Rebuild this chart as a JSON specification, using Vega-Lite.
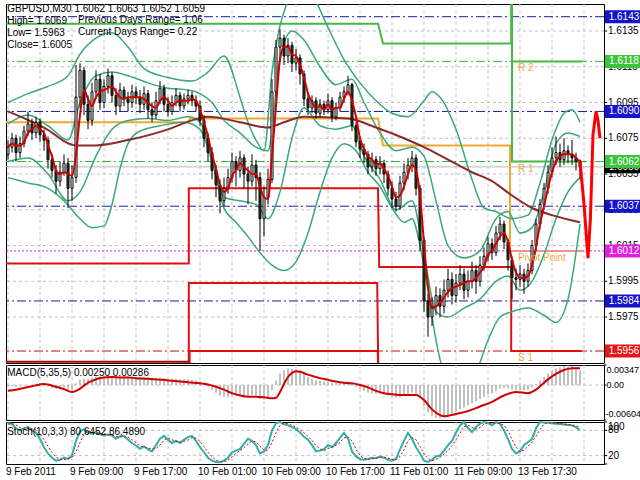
{
"$schema": "https://vega.github.io/schema/vega-lite/v6.json",
"background": "white",
"padding": {"left": 3, "top": 3, "right": 0, "bottom": 0},
"spacing": 2,
"bounds": "flush",
"config": {
  "view": {"stroke": "#000", "strokeWidth": 1},
  "font": "Liberation Sans",
  "axis": {"disable": true},
  "scale": {"continuousPadding": 0},
  "text": {"font": "Liberation Sans", "fontSize": 10}
},
"datasets": {
  "bars": [
{"t":0,"o":1.6066,"h":1.6074,"l":1.6063,"c":1.6070,"m":1.6070,"mh":-0.0003,"k":98,"d":95},
{"t":1,"o":1.6070,"h":1.6078,"l":1.6067,"c":1.6075,"m":1.6072,"mh":-0.0002,"k":95,"d":96},
{"t":2,"o":1.6075,"h":1.6077,"l":1.6062,"c":1.6067,"m":1.6071,"mh":-0.0003,"k":85,"d":93},
{"t":3,"o":1.6067,"h":1.6076,"l":1.6064,"c":1.6072,"m":1.6071,"mh":-0.0002,"k":80,"d":87},
{"t":4,"o":1.6072,"h":1.6082,"l":1.6070,"c":1.6079,"m":1.6073,"mh":-0.0001,"k":85,"d":83},
{"t":5,"o":1.6079,"h":1.6090,"l":1.6076,"c":1.6083,"m":1.6078,"mh":0,"k":88,"d":84},
{"t":6,"o":1.6083,"h":1.6086,"l":1.6074,"c":1.6078,"m":1.6080,"mh":0,"k":80,"d":84},
{"t":7,"o":1.6078,"h":1.6087,"l":1.6075,"c":1.6084,"m":1.6082,"mh":0.0001,"k":75,"d":81},
{"t":8,"o":1.6084,"h":1.6086,"l":1.6073,"c":1.6077,"m":1.6080,"mh":0,"k":60,"d":72},
{"t":9,"o":1.6077,"h":1.6080,"l":1.6068,"c":1.6074,"m":1.6078,"mh":-0.0001,"k":40,"d":58},
{"t":10,"o":1.6074,"h":1.6076,"l":1.6058,"c":1.6063,"m":1.6071,"mh":-0.0003,"k":25,"d":42},
{"t":11,"o":1.6063,"h":1.6066,"l":1.6053,"c":1.6057,"m":1.6065,"mh":-0.0005,"k":15,"d":27},
{"t":12,"o":1.6057,"h":1.6060,"l":1.6044,"c":1.6051,"m":1.6057,"mh":-0.0007,"k":8,"d":16},
{"t":13,"o":1.6051,"h":1.6062,"l":1.6048,"c":1.6056,"m":1.6055,"mh":-0.0007,"k":10,"d":11},
{"t":14,"o":1.6056,"h":1.6066,"l":1.6054,"c":1.6061,"m":1.6056,"mh":-0.0006,"k":15,"d":11},
{"t":15,"o":1.6061,"h":1.6064,"l":1.6036,"c":1.6047,"m":1.6055,"mh":-0.0008,"k":12,"d":12},
{"t":16,"o":1.6047,"h":1.6060,"l":1.6040,"c":1.6053,"m":1.6054,"mh":-0.0008,"k":20,"d":16},
{"t":17,"o":1.6053,"h":1.6116,"l":1.6050,"c":1.6098,"m":1.6066,"mh":0.0003,"k":55,"d":29},
{"t":18,"o":1.6098,"h":1.6117,"l":1.6092,"c":1.6113,"m":1.6088,"mh":0.0009,"k":78,"d":51},
{"t":19,"o":1.6113,"h":1.6115,"l":1.6088,"c":1.6094,"m":1.6102,"mh":0.0011,"k":83,"d":72},
{"t":20,"o":1.6094,"h":1.6099,"l":1.6080,"c":1.6085,"m":1.6097,"mh":0.0011,"k":74,"d":78},
{"t":21,"o":1.6085,"h":1.6106,"l":1.6082,"c":1.6101,"m":1.6093,"mh":0.0013,"k":72,"d":76},
{"t":22,"o":1.6101,"h":1.6113,"l":1.6097,"c":1.6108,"m":1.6098,"mh":0.0015,"k":76,"d":74},
{"t":23,"o":1.6108,"h":1.6111,"l":1.6091,"c":1.6095,"m":1.6101,"mh":0.0015,"k":71,"d":73},
{"t":24,"o":1.6095,"h":1.6108,"l":1.6092,"c":1.6104,"m":1.6102,"mh":0.0016,"k":68,"d":72},
{"t":25,"o":1.6104,"h":1.6114,"l":1.6100,"c":1.6110,"m":1.6103,"mh":0.0017,"k":70,"d":70},
{"t":26,"o":1.6110,"h":1.6112,"l":1.6095,"c":1.6099,"m":1.6104,"mh":0.0016,"k":68,"d":69},
{"t":27,"o":1.6099,"h":1.6103,"l":1.6088,"c":1.6093,"m":1.6101,"mh":0.0015,"k":60,"d":66},
{"t":28,"o":1.6093,"h":1.6106,"l":1.6090,"c":1.6102,"m":1.6098,"mh":0.0016,"k":66,"d":65},
{"t":29,"o":1.6102,"h":1.6104,"l":1.6093,"c":1.6097,"m":1.6097,"mh":0.0015,"k":67,"d":64},
{"t":30,"o":1.6097,"h":1.6101,"l":1.6090,"c":1.6095,"m":1.6098,"mh":0.0015,"k":58,"d":64},
{"t":31,"o":1.6095,"h":1.6105,"l":1.6092,"c":1.6101,"m":1.6098,"mh":0.0015,"k":50,"d":58},
{"t":32,"o":1.6101,"h":1.6104,"l":1.6094,"c":1.6098,"m":1.6098,"mh":0.0014,"k":44,"d":51},
{"t":33,"o":1.6098,"h":1.6102,"l":1.6089,"c":1.6094,"m":1.6098,"mh":0.0014,"k":36,"d":43},
{"t":34,"o":1.6094,"h":1.6104,"l":1.6091,"c":1.6100,"m":1.6097,"mh":0.0014,"k":42,"d":41},
{"t":35,"o":1.6100,"h":1.6102,"l":1.6086,"c":1.6091,"m":1.6095,"mh":0.0013,"k":35,"d":38},
{"t":36,"o":1.6091,"h":1.6095,"l":1.6084,"c":1.6088,"m":1.6093,"mh":0.0012,"k":30,"d":36},
{"t":37,"o":1.6088,"h":1.6101,"l":1.6086,"c":1.6096,"m":1.6092,"mh":0.0012,"k":45,"d":37},
{"t":38,"o":1.6096,"h":1.6107,"l":1.6094,"c":1.6103,"m":1.6096,"mh":0.0013,"k":60,"d":45},
{"t":39,"o":1.6103,"h":1.6105,"l":1.6090,"c":1.6094,"m":1.6098,"mh":0.0012,"k":67,"d":57},
{"t":40,"o":1.6094,"h":1.6098,"l":1.6087,"c":1.6090,"m":1.6096,"mh":0.0011,"k":58,"d":62},
{"t":41,"o":1.6090,"h":1.6099,"l":1.6088,"c":1.6095,"m":1.6093,"mh":0.0011,"k":50,"d":58},
{"t":42,"o":1.6095,"h":1.6103,"l":1.6093,"c":1.6099,"m":1.6095,"mh":0.0011,"k":55,"d":54},
{"t":43,"o":1.6099,"h":1.6101,"l":1.6090,"c":1.6093,"m":1.6096,"mh":0.0010,"k":50,"d":52},
{"t":44,"o":1.6093,"h":1.6100,"l":1.6091,"c":1.6097,"m":1.6096,"mh":0.0010,"k":58,"d":54},
{"t":45,"o":1.6097,"h":1.6102,"l":1.6094,"c":1.6099,"m":1.6096,"mh":0.0010,"k":64,"d":57},
{"t":46,"o":1.6099,"h":1.6101,"l":1.6093,"c":1.6096,"m":1.6097,"mh":0.0009,"k":67,"d":63},
{"t":47,"o":1.6096,"h":1.6099,"l":1.6090,"c":1.6093,"m":1.6096,"mh":0.0008,"k":55,"d":62},
{"t":48,"o":1.6093,"h":1.6096,"l":1.6082,"c":1.6085,"m":1.6091,"mh":0.0006,"k":40,"d":54},
{"t":49,"o":1.6085,"h":1.6088,"l":1.6070,"c":1.6075,"m":1.6084,"mh":0.0002,"k":28,"d":41},
{"t":50,"o":1.6075,"h":1.6078,"l":1.6062,"c":1.6067,"m":1.6076,"mh":-0.0003,"k":15,"d":28},
{"t":51,"o":1.6067,"h":1.6070,"l":1.6052,"c":1.6057,"m":1.6066,"mh":-0.0008,"k":8,"d":17},
{"t":52,"o":1.6057,"h":1.6060,"l":1.6042,"c":1.6049,"m":1.6058,"mh":-0.0013,"k":5,"d":9},
{"t":53,"o":1.6049,"h":1.6052,"l":1.6033,"c":1.6040,"m":1.6049,"mh":-0.0018,"k":4,"d":6},
{"t":54,"o":1.6040,"h":1.6053,"l":1.6037,"c":1.6047,"m":1.6045,"mh":-0.0020,"k":8,"d":6},
{"t":55,"o":1.6047,"h":1.6058,"l":1.6044,"c":1.6053,"m":1.6047,"mh":-0.0021,"k":15,"d":9},
{"t":56,"o":1.6053,"h":1.6067,"l":1.6050,"c":1.6062,"m":1.6054,"mh":-0.0019,"k":28,"d":17},
{"t":57,"o":1.6062,"h":1.6065,"l":1.6048,"c":1.6057,"m":1.6057,"mh":-0.0019,"k":32,"d":25},
{"t":58,"o":1.6057,"h":1.6068,"l":1.6053,"c":1.6064,"m":1.6061,"mh":-0.0017,"k":36,"d":32},
{"t":59,"o":1.6064,"h":1.6066,"l":1.6047,"c":1.6055,"m":1.6059,"mh":-0.0018,"k":48,"d":39},
{"t":60,"o":1.6055,"h":1.6059,"l":1.6038,"c":1.6051,"m":1.6057,"mh":-0.0019,"k":60,"d":48},
{"t":61,"o":1.6051,"h":1.6066,"l":1.6048,"c":1.6060,"m":1.6055,"mh":-0.0017,"k":55,"d":54},
{"t":62,"o":1.6060,"h":1.6063,"l":1.6040,"c":1.6053,"m":1.6055,"mh":-0.0018,"k":45,"d":53},
{"t":63,"o":1.6053,"h":1.6056,"l":1.6012,"c":1.6030,"m":1.6048,"mh":-0.0024,"k":25,"d":42},
{"t":64,"o":1.6030,"h":1.6048,"l":1.6020,"c":1.6042,"m":1.6042,"mh":-0.0025,"k":30,"d":33},
{"t":65,"o":1.6042,"h":1.6058,"l":1.6038,"c":1.6052,"m":1.6041,"mh":-0.0023,"k":45,"d":33},
{"t":66,"o":1.6052,"h":1.6108,"l":1.6050,"c":1.6101,"m":1.6065,"mh":-0.0009,"k":80,"d":52},
{"t":67,"o":1.6101,"h":1.6130,"l":1.6098,"c":1.6126,"m":1.6093,"mh":0.0008,"k":97,"d":74},
{"t":68,"o":1.6126,"h":1.6136,"l":1.6120,"c":1.6131,"m":1.6119,"mh":0.0020,"k":100,"d":92},
{"t":69,"o":1.6131,"h":1.6133,"l":1.6116,"c":1.6121,"m":1.6126,"mh":0.0026,"k":95,"d":97},
{"t":70,"o":1.6121,"h":1.6131,"l":1.6117,"c":1.6127,"m":1.6126,"mh":0.0029,"k":92,"d":96},
{"t":71,"o":1.6127,"h":1.6129,"l":1.6112,"c":1.6117,"m":1.6122,"mh":0.0028,"k":88,"d":92},
{"t":72,"o":1.6117,"h":1.6125,"l":1.6113,"c":1.6120,"m":1.6121,"mh":0.0028,"k":83,"d":88},
{"t":73,"o":1.6120,"h":1.6122,"l":1.6105,"c":1.6111,"m":1.6116,"mh":0.0025,"k":75,"d":82},
{"t":74,"o":1.6111,"h":1.6113,"l":1.6093,"c":1.6097,"m":1.6109,"mh":0.0019,"k":65,"d":74},
{"t":75,"o":1.6097,"h":1.6100,"l":1.6088,"c":1.6092,"m":1.6100,"mh":0.0014,"k":58,"d":66},
{"t":76,"o":1.6092,"h":1.6099,"l":1.6089,"c":1.6096,"m":1.6095,"mh":0.0011,"k":45,"d":56},
{"t":77,"o":1.6096,"h":1.6098,"l":1.6086,"c":1.6089,"m":1.6092,"mh":0.0008,"k":30,"d":44},
{"t":78,"o":1.6089,"h":1.6097,"l":1.6087,"c":1.6094,"m":1.6093,"mh":0.0007,"k":32,"d":36},
{"t":79,"o":1.6094,"h":1.6096,"l":1.6088,"c":1.6091,"m":1.6091,"mh":0.0006,"k":35,"d":32},
{"t":80,"o":1.6091,"h":1.6100,"l":1.6089,"c":1.6096,"m":1.6094,"mh":0.0006,"k":45,"d":37},
{"t":81,"o":1.6096,"h":1.6098,"l":1.6084,"c":1.6087,"m":1.6091,"mh":0.0004,"k":40,"d":40},
{"t":82,"o":1.6087,"h":1.6095,"l":1.6085,"c":1.6092,"m":1.6092,"mh":0.0004,"k":50,"d":45},
{"t":83,"o":1.6092,"h":1.6101,"l":1.6090,"c":1.6098,"m":1.6092,"mh":0.0004,"k":62,"d":51},
{"t":84,"o":1.6098,"h":1.6104,"l":1.6095,"c":1.6101,"m":1.6097,"mh":0.0005,"k":74,"d":62},
{"t":85,"o":1.6101,"h":1.6110,"l":1.6099,"c":1.6105,"m":1.6101,"mh":0.0006,"k":60,"d":65},
{"t":86,"o":1.6105,"h":1.6106,"l":1.6079,"c":1.6082,"m":1.6096,"mh":0.0002,"k":30,"d":55},
{"t":87,"o":1.6082,"h":1.6084,"l":1.6070,"c":1.6073,"m":1.6087,"mh":-0.0003,"k":18,"d":36},
{"t":88,"o":1.6073,"h":1.6076,"l":1.6064,"c":1.6069,"m":1.6075,"mh":-0.0007,"k":12,"d":20},
{"t":89,"o":1.6069,"h":1.6072,"l":1.6061,"c":1.6066,"m":1.6069,"mh":-0.0010,"k":10,"d":13},
{"t":90,"o":1.6066,"h":1.6068,"l":1.6055,"c":1.6059,"m":1.6065,"mh":-0.0013,"k":12,"d":11},
{"t":91,"o":1.6059,"h":1.6067,"l":1.6056,"c":1.6063,"m":1.6063,"mh":-0.0014,"k":15,"d":12},
{"t":92,"o":1.6063,"h":1.6065,"l":1.6054,"c":1.6058,"m":1.6060,"mh":-0.0015,"k":14,"d":14},
{"t":93,"o":1.6058,"h":1.6065,"l":1.6055,"c":1.6061,"m":1.6061,"mh":-0.0015,"k":18,"d":16},
{"t":94,"o":1.6061,"h":1.6063,"l":1.6050,"c":1.6055,"m":1.6058,"mh":-0.0016,"k":15,"d":16},
{"t":95,"o":1.6055,"h":1.6057,"l":1.6043,"c":1.6047,"m":1.6054,"mh":-0.0018,"k":10,"d":14},
{"t":96,"o":1.6047,"h":1.6051,"l":1.6036,"c":1.6041,"m":1.6048,"mh":-0.0020,"k":8,"d":11},
{"t":97,"o":1.6041,"h":1.6045,"l":1.6034,"c":1.6037,"m":1.6042,"mh":-0.0022,"k":12,"d":10},
{"t":98,"o":1.6037,"h":1.6054,"l":1.6035,"c":1.6050,"m":1.6043,"mh":-0.0021,"k":35,"d":18},
{"t":99,"o":1.6050,"h":1.6061,"l":1.6046,"c":1.6056,"m":1.6048,"mh":-0.0019,"k":55,"d":34},
{"t":100,"o":1.6056,"h":1.6064,"l":1.6052,"c":1.6060,"m":1.6055,"mh":-0.0016,"k":74,"d":55},
{"t":101,"o":1.6060,"h":1.6068,"l":1.6056,"c":1.6064,"m":1.6060,"mh":-0.0013,"k":60,"d":63},
{"t":102,"o":1.6064,"h":1.6066,"l":1.6043,"c":1.6047,"m":1.6057,"mh":-0.0015,"k":40,"d":58},
{"t":103,"o":1.6047,"h":1.6049,"l":1.6012,"c":1.6018,"m":1.6043,"mh":-0.0023,"k":25,"d":42},
{"t":104,"o":1.6018,"h":1.6020,"l":1.5978,"c":1.5984,"m":1.6016,"mh":-0.0036,"k":8,"d":24},
{"t":105,"o":1.5984,"h":1.5988,"l":1.5964,"c":1.5975,"m":1.5992,"mh":-0.0047,"k":5,"d":13},
{"t":106,"o":1.5975,"h":1.5986,"l":1.5970,"c":1.5981,"m":1.5980,"mh":-0.0054,"k":10,"d":8},
{"t":107,"o":1.5981,"h":1.5992,"l":1.5976,"c":1.5987,"m":1.5981,"mh":-0.0057,"k":18,"d":11},
{"t":108,"o":1.5987,"h":1.5991,"l":1.5975,"c":1.5981,"m":1.5983,"mh":-0.0058,"k":20,"d":16},
{"t":109,"o":1.5981,"h":1.5996,"l":1.5977,"c":1.5990,"m":1.5986,"mh":-0.0056,"k":32,"d":23},
{"t":110,"o":1.5990,"h":1.6002,"l":1.5986,"c":1.5996,"m":1.5989,"mh":-0.0052,"k":45,"d":32},
{"t":111,"o":1.5996,"h":1.6000,"l":1.5982,"c":1.5987,"m":1.5991,"mh":-0.0050,"k":55,"d":44},
{"t":112,"o":1.5987,"h":1.5999,"l":1.5983,"c":1.5994,"m":1.5992,"mh":-0.0046,"k":75,"d":58},
{"t":113,"o":1.5994,"h":1.6004,"l":1.5990,"c":1.5999,"m":1.5993,"mh":-0.0042,"k":92,"d":74},
{"t":114,"o":1.5999,"h":1.6002,"l":1.5985,"c":1.5990,"m":1.5994,"mh":-0.0039,"k":100,"d":89},
{"t":115,"o":1.5990,"h":1.6001,"l":1.5986,"c":1.5995,"m":1.5995,"mh":-0.0035,"k":85,"d":92},
{"t":116,"o":1.5995,"h":1.6006,"l":1.5991,"c":1.6001,"m":1.5995,"mh":-0.0031,"k":76,"d":87},
{"t":117,"o":1.6001,"h":1.6004,"l":1.5988,"c":1.5995,"m":1.5997,"mh":-0.0028,"k":88,"d":83},
{"t":118,"o":1.5995,"h":1.6009,"l":1.5992,"c":1.6004,"m":1.6000,"mh":-0.0024,"k":96,"d":87},
{"t":119,"o":1.6004,"h":1.6014,"l":1.6001,"c":1.6009,"m":1.6003,"mh":-0.0020,"k":100,"d":95},
{"t":120,"o":1.6009,"h":1.6020,"l":1.6006,"c":1.6016,"m":1.6010,"mh":-0.0016,"k":98,"d":98},
{"t":121,"o":1.6016,"h":1.6019,"l":1.6007,"c":1.6011,"m":1.6012,"mh":-0.0014,"k":92,"d":97},
{"t":122,"o":1.6011,"h":1.6026,"l":1.6009,"c":1.6022,"m":1.6016,"mh":-0.0010,"k":100,"d":97},
{"t":123,"o":1.6022,"h":1.6031,"l":1.6018,"c":1.6027,"m":1.6020,"mh":-0.0006,"k":96,"d":96},
{"t":124,"o":1.6027,"h":1.6029,"l":1.6013,"c":1.6017,"m":1.6022,"mh":-0.0005,"k":80,"d":92},
{"t":125,"o":1.6017,"h":1.6019,"l":1.6001,"c":1.6007,"m":1.6017,"mh":-0.0006,"k":60,"d":79},
{"t":126,"o":1.6007,"h":1.6009,"l":1.5985,"c":1.5997,"m":1.6007,"mh":-0.0008,"k":36,"d":59},
{"t":127,"o":1.5997,"h":1.6002,"l":1.5990,"c":1.5996,"m":1.6000,"mh":-0.0009,"k":25,"d":40},
{"t":128,"o":1.5996,"h":1.6004,"l":1.5992,"c":1.5999,"m":1.5997,"mh":-0.0009,"k":30,"d":30},
{"t":129,"o":1.5999,"h":1.6002,"l":1.5988,"c":1.5995,"m":1.5997,"mh":-0.0009,"k":45,"d":33},
{"t":130,"o":1.5995,"h":1.6005,"l":1.5992,"c":1.6001,"m":1.5998,"mh":-0.0008,"k":52,"d":42},
{"t":131,"o":1.6001,"h":1.6018,"l":1.5999,"c":1.6015,"m":1.6004,"mh":-0.0004,"k":60,"d":52},
{"t":132,"o":1.6015,"h":1.6030,"l":1.6012,"c":1.6027,"m":1.6014,"mh":0.0002,"k":85,"d":66},
{"t":133,"o":1.6027,"h":1.6041,"l":1.6024,"c":1.6038,"m":1.6027,"mh":0.0008,"k":100,"d":82},
{"t":134,"o":1.6038,"h":1.6050,"l":1.6035,"c":1.6047,"m":1.6037,"mh":0.0014,"k":99,"d":95},
{"t":135,"o":1.6047,"h":1.6060,"l":1.6044,"c":1.6056,"m":1.6047,"mh":0.0020,"k":98,"d":99},
{"t":136,"o":1.6056,"h":1.6070,"l":1.6053,"c":1.6064,"m":1.6056,"mh":0.0025,"k":97,"d":98},
{"t":137,"o":1.6064,"h":1.6076,"l":1.6060,"c":1.6067,"m":1.6062,"mh":0.0029,"k":96,"d":97},
{"t":138,"o":1.6067,"h":1.6072,"l":1.6059,"c":1.6063,"m":1.6065,"mh":0.0031,"k":95,"d":96},
{"t":139,"o":1.6063,"h":1.6075,"l":1.6060,"c":1.6068,"m":1.6066,"mh":0.0033,"k":94,"d":95},
{"t":140,"o":1.6068,"h":1.6071,"l":1.6061,"c":1.6066,"m":1.6066,"mh":0.0034,"k":93,"d":94},
{"t":141,"o":1.6066,"h":1.6074,"l":1.6060,"c":1.6064,"m":1.6066,"mh":0.0033,"k":92,"d":93},
{"t":142,"o":1.6064,"h":1.6067,"l":1.6057,"c":1.6062,"m":1.6064,"mh":0.0030,"k":87,"d":91},
{"t":143,"o":1.6062,"h":1.6063,"l":1.6052,"c":1.6059,"m":1.6062,"mh":0.0025,"k":81,"d":87}
  ],
  "macdsig": [
{"t":0,"v":-0.0010},{"t":2,"v":-0.0008},{"t":4,"v":-0.0005},{"t":6,"v":-0.0002},{"t":8,"v":0.0001},{"t":9,"v":0.0002},{"t":10,"v":0.0001},{"t":12,"v":-0.0003},{"t":14,"v":-0.0007},{"t":16,"v":-0.0012},{"t":17,"v":-0.0010},{"t":18,"v":-0.0006},{"t":19,"v":-0.0001},{"t":20,"v":0.0004},{"t":21,"v":0.0007},{"t":22,"v":0.0010},{"t":24,"v":0.0013},{"t":26,"v":0.0014},{"t":28,"v":0.0013},{"t":30,"v":0.0013},{"t":32,"v":0.0012},{"t":35,"v":0.0011},{"t":40,"v":0.0008},{"t":45,"v":0.0005},{"t":48,"v":0.0003},{"t":50,"v":0.0001},{"t":52,"v":-0.0003},{"t":54,"v":-0.0008},{"t":56,"v":-0.0014},{"t":58,"v":-0.0018},{"t":60,"v":-0.0020},{"t":62,"v":-0.0020},{"t":64,"v":-0.0021},{"t":66,"v":-0.0023},{"t":67,"v":-0.0022},{"t":68,"v":-0.0012},{"t":69,"v":0.0002},{"t":70,"v":0.0014},{"t":71,"v":0.0021},{"t":72,"v":0.0024},{"t":73,"v":0.0023},{"t":75,"v":0.0018},{"t":78,"v":0.0012},{"t":80,"v":0.0009},{"t":82,"v":0.0006},{"t":84,"v":0.0004},{"t":86,"v":0.0003},{"t":88,"v":0},{"t":90,"v":-0.0004},{"t":92,"v":-0.0010},{"t":94,"v":-0.0014},{"t":96,"v":-0.0016},{"t":98,"v":-0.0017},{"t":100,"v":-0.0017},{"t":102,"v":-0.0017},{"t":104,"v":-0.0026},{"t":106,"v":-0.0042},{"t":108,"v":-0.0052},{"t":109,"v":-0.0054},{"t":110,"v":-0.0053},{"t":112,"v":-0.0050},{"t":115,"v":-0.0045},{"t":118,"v":-0.0037},{"t":121,"v":-0.0029},{"t":124,"v":-0.0018},{"t":127,"v":-0.0012},{"t":130,"v":-0.0014},{"t":132,"v":-0.0008},{"t":134,"v":0.0004},{"t":136,"v":0.0015},{"t":138,"v":0.0023},{"t":139,"v":0.0026},{"t":140,"v":0.0028},{"t":141,"v":0.0029},{"t":143,"v":0.0029}
  ],
  "steps": [
{"g":"hi","s":1,"t":-0.5,"p":1.6139},{"g":"hi","s":1,"t":92.5,"p":1.6139},{"g":"hi","s":1,"t":93.75,"p":1.6128},{"g":"hi","s":1,"t":125.8,"p":1.6128},{"g":"hi","s":1,"t":125.8,"p":1.6160},
{"g":"hi","s":2,"t":126,"p":1.6160},{"g":"hi","s":2,"t":126,"p":1.6062},{"g":"hi","s":2,"t":143.5,"p":1.6062},
{"g":"hi","s":3,"t":126,"p":1.6118},{"g":"hi","s":3,"t":143.5,"p":1.6118},
{"g":"mid","s":4,"t":-0.5,"p":1.6084},{"g":"mid","s":4,"t":45,"p":1.6084},{"g":"mid","s":4,"t":45.5,"p":1.6086},{"g":"mid","s":4,"t":92.5,"p":1.6086},{"g":"mid","s":4,"t":93.75,"p":1.6071},{"g":"mid","s":4,"t":125.5,"p":1.6071},{"g":"mid","s":4,"t":125.5,"p":1.6012},
{"g":"pp","s":5,"t":125.5,"p":1.6012},{"g":"pp","s":5,"t":143.5,"p":1.6012},
{"g":"lo","s":6,"t":-0.5,"p":1.6005},{"g":"lo","s":6,"t":45.2,"p":1.6005},{"g":"lo","s":6,"t":45.2,"p":1.6047},{"g":"lo","s":6,"t":92.5,"p":1.6047},{"g":"lo","s":6,"t":92.8,"p":1.6003},{"g":"lo","s":6,"t":125.8,"p":1.6003},{"g":"lo","s":6,"t":125.8,"p":1.5956},{"g":"lo","s":6,"t":143.5,"p":1.5956},
{"g":"lo","s":7,"t":45.2,"p":1.5940},{"g":"lo","s":7,"t":45.2,"p":1.5994},{"g":"lo","s":7,"t":92.3,"p":1.5994},{"g":"lo","s":7,"t":92.6,"p":1.5940},
{"g":"lo","s":8,"t":45.4,"p":1.5940},{"g":"lo","s":8,"t":45.4,"p":1.5956},{"g":"lo","s":8,"t":92.4,"p":1.5956},{"g":"lo","s":8,"t":92.7,"p":1.5940},
{"g":"lo2","s":9,"t":-0.5,"p":1.5950},{"g":"lo2","s":9,"t":45.2,"p":1.5950}
  ],
  "bands": [
{"b":"u1","t":0,"p":1.6095},{"b":"u1","t":5,"p":1.6100},{"b":"u1","t":10,"p":1.6104},{"b":"u1","t":15,"p":1.6110},{"b":"u1","t":18,"p":1.6122},{"b":"u1","t":22,"p":1.6131},{"b":"u1","t":26,"p":1.6134},{"b":"u1","t":30,"p":1.6126},{"b":"u1","t":34,"p":1.6114},{"b":"u1","t":40,"p":1.6109},{"b":"u1","t":46,"p":1.6107},{"b":"u1","t":50,"p":1.6112},{"b":"u1","t":54,"p":1.6121},{"b":"u1","t":58,"p":1.6098},{"b":"u1","t":60,"p":1.6084},{"b":"u1","t":62,"p":1.6074},{"b":"u1","t":64,"p":1.6068},{"b":"u1","t":66,"p":1.6112},{"b":"u1","t":68,"p":1.6138},{"b":"u1","t":70,"p":1.6152},{"b":"u1","t":73,"p":1.6165},{"b":"u1","t":76,"p":1.6156},{"b":"u1","t":80,"p":1.6137},{"b":"u1","t":84,"p":1.6119},{"b":"u1","t":88,"p":1.6106},{"b":"u1","t":92,"p":1.6096},{"b":"u1","t":96,"p":1.6089},{"b":"u1","t":100,"p":1.6087},{"b":"u1","t":104,"p":1.6096},{"b":"u1","t":106,"p":1.6101},{"b":"u1","t":108,"p":1.6098},{"b":"u1","t":112,"p":1.6080},{"b":"u1","t":116,"p":1.6052},{"b":"u1","t":119,"p":1.6036},{"b":"u1","t":122,"p":1.6034},{"b":"u1","t":126,"p":1.6030},{"b":"u1","t":130,"p":1.6032},{"b":"u1","t":133,"p":1.6050},{"b":"u1","t":136,"p":1.6074},{"b":"u1","t":139,"p":1.6089},{"b":"u1","t":141,"p":1.6091},{"b":"u1","t":143,"p":1.6084},
{"b":"l1","t":0,"p":1.6053},{"b":"l1","t":5,"p":1.6050},{"b":"l1","t":10,"p":1.6047},{"b":"l1","t":14,"p":1.6040},{"b":"l1","t":18,"p":1.6030},{"b":"l1","t":21,"p":1.6025},{"b":"l1","t":24,"p":1.6026},{"b":"l1","t":26,"p":1.6038},{"b":"l1","t":28,"p":1.6058},{"b":"l1","t":30,"p":1.6072},{"b":"l1","t":33,"p":1.6079},{"b":"l1","t":38,"p":1.6082},{"b":"l1","t":44,"p":1.6084},{"b":"l1","t":48,"p":1.6080},{"b":"l1","t":51,"p":1.6062},{"b":"l1","t":54,"p":1.6036},{"b":"l1","t":57,"p":1.6028},{"b":"l1","t":60,"p":1.6020},{"b":"l1","t":63,"p":1.6011},{"b":"l1","t":66,"p":1.6004},{"b":"l1","t":69,"p":1.6001},{"b":"l1","t":72,"p":1.6006},{"b":"l1","t":75,"p":1.6022},{"b":"l1","t":78,"p":1.6045},{"b":"l1","t":81,"p":1.6064},{"b":"l1","t":84,"p":1.6072},{"b":"l1","t":87,"p":1.6068},{"b":"l1","t":90,"p":1.6056},{"b":"l1","t":93,"p":1.6048},{"b":"l1","t":96,"p":1.6036},{"b":"l1","t":99,"p":1.6028},{"b":"l1","t":101,"p":1.6030},{"b":"l1","t":103,"p":1.6015},{"b":"l1","t":105,"p":1.5990},{"b":"l1","t":107,"p":1.5962},{"b":"l1","t":109,"p":1.5944},{"b":"l1","t":113,"p":1.5935},{"b":"l1","t":117,"p":1.5944},{"b":"l1","t":120,"p":1.5962},{"b":"l1","t":123,"p":1.5975},{"b":"l1","t":126,"p":1.5978},{"b":"l1","t":130,"p":1.5980},{"b":"l1","t":134,"p":1.5976},{"b":"l1","t":137,"p":1.5972},{"b":"l1","t":140,"p":1.5985},{"b":"l1","t":143,"p":1.6027},
{"b":"u2","t":0,"p":1.6083},{"b":"u2","t":5,"p":1.6088},{"b":"u2","t":10,"p":1.6082},{"b":"u2","t":15,"p":1.6074},{"b":"u2","t":18,"p":1.6095},{"b":"u2","t":22,"p":1.6110},{"b":"u2","t":26,"p":1.6112},{"b":"u2","t":30,"p":1.6110},{"b":"u2","t":35,"p":1.6106},{"b":"u2","t":40,"p":1.6103},{"b":"u2","t":45,"p":1.6102},{"b":"u2","t":48,"p":1.6100},{"b":"u2","t":51,"p":1.6095},{"b":"u2","t":54,"p":1.6085},{"b":"u2","t":58,"p":1.6078},{"b":"u2","t":62,"p":1.6070},{"b":"u2","t":65,"p":1.6068},{"b":"u2","t":68,"p":1.6120},{"b":"u2","t":71,"p":1.6135},{"b":"u2","t":74,"p":1.6130},{"b":"u2","t":78,"p":1.6115},{"b":"u2","t":82,"p":1.6105},{"b":"u2","t":86,"p":1.6108},{"b":"u2","t":89,"p":1.6095},{"b":"u2","t":93,"p":1.6078},{"b":"u2","t":97,"p":1.6068},{"b":"u2","t":101,"p":1.6070},{"b":"u2","t":104,"p":1.6065},{"b":"u2","t":107,"p":1.6040},{"b":"u2","t":110,"p":1.6015},{"b":"u2","t":114,"p":1.6008},{"b":"u2","t":118,"p":1.6012},{"b":"u2","t":122,"p":1.6030},{"b":"u2","t":125,"p":1.6034},{"b":"u2","t":128,"p":1.6022},{"b":"u2","t":131,"p":1.6025},{"b":"u2","t":134,"p":1.6045},{"b":"u2","t":137,"p":1.6072},{"b":"u2","t":140,"p":1.6078},{"b":"u2","t":143,"p":1.6076},
{"b":"l2","t":0,"p":1.6062},{"b":"l2","t":5,"p":1.6064},{"b":"l2","t":10,"p":1.6055},{"b":"l2","t":15,"p":1.6040},{"b":"l2","t":18,"p":1.6045},{"b":"l2","t":22,"p":1.6065},{"b":"l2","t":26,"p":1.6080},{"b":"l2","t":30,"p":1.6085},{"b":"l2","t":35,"p":1.6086},{"b":"l2","t":40,"p":1.6085},{"b":"l2","t":45,"p":1.6087},{"b":"l2","t":48,"p":1.6084},{"b":"l2","t":51,"p":1.6065},{"b":"l2","t":54,"p":1.6042},{"b":"l2","t":58,"p":1.6040},{"b":"l2","t":62,"p":1.6038},{"b":"l2","t":65,"p":1.6030},{"b":"l2","t":68,"p":1.6045},{"b":"l2","t":71,"p":1.6075},{"b":"l2","t":74,"p":1.6092},{"b":"l2","t":78,"p":1.6082},{"b":"l2","t":82,"p":1.6080},{"b":"l2","t":86,"p":1.6082},{"b":"l2","t":89,"p":1.6065},{"b":"l2","t":93,"p":1.6052},{"b":"l2","t":97,"p":1.6035},{"b":"l2","t":101,"p":1.6040},{"b":"l2","t":104,"p":1.6010},{"b":"l2","t":107,"p":1.5978},{"b":"l2","t":110,"p":1.5975},{"b":"l2","t":114,"p":1.5980},{"b":"l2","t":118,"p":1.5985},{"b":"l2","t":122,"p":1.5995},{"b":"l2","t":125,"p":1.5998},{"b":"l2","t":128,"p":1.5990},{"b":"l2","t":131,"p":1.5995},{"b":"l2","t":134,"p":1.6010},{"b":"l2","t":137,"p":1.6030},{"b":"l2","t":140,"p":1.6045},{"b":"l2","t":143,"p":1.6053}
  ],
  "slow": [
{"t":0,"p":1.6090},{"t":9,"p":1.6081},{"t":17,"p":1.6071},{"t":22,"p":1.6071},{"t":30,"p":1.6074},{"t":40,"p":1.6080},{"t":46,"p":1.6085},{"t":50,"p":1.6087},{"t":58,"p":1.6084},{"t":65,"p":1.6081},{"t":69,"p":1.6084},{"t":74,"p":1.6087},{"t":85,"p":1.6086},{"t":92,"p":1.6081},{"t":99,"p":1.6075},{"t":104,"p":1.6070},{"t":110,"p":1.6063},{"t":116,"p":1.6056},{"t":121,"p":1.6051},{"t":126,"p":1.6043},{"t":131,"p":1.6036},{"t":136,"p":1.6032},{"t":143,"p":1.6028}
  ],
  "tail": [
{"t":143,"p":1.6062},{"t":144,"p":1.6038},{"t":144.5,"p":1.6023},{"t":145,"p":1.6008},{"t":145.6,"p":1.6030},{"t":146.25,"p":1.6077},{"t":147,"p":1.6090},{"t":147.5,"p":1.6085},{"t":148,"p":1.6075}
  ],
  "levels": [
{"p":1.6143,"kind":"level"},{"p":1.6118,"kind":"resistance"},{"p":1.6090,"kind":"level"},{"p":1.6062,"kind":"resistance"},{"p":1.6037,"kind":"level"},{"p":1.6012,"kind":"pivot"},{"p":1.5984,"kind":"level"},{"p":1.5956,"kind":"support"}
  ],
  "bid": [{"p":1.6059}],
  "pivlab": [
{"name":"R 2","p":1.6118},{"name":"R 1","p":1.6062},{"name":"Pivot Point","p":1.6012},{"name":"S 1","p":1.5956}
  ],
  "gridx": [{"t":0},{"t":8},{"t":16},{"t":24},{"t":32},{"t":40},{"t":48},{"t":56},{"t":64},{"t":72},{"t":80},{"t":88},{"t":96},{"t":104},{"t":112},{"t":120},{"t":128},{"t":136},{"t":144}],
  "pricetix": [{"p":1.5975},{"p":1.5995},{"p":1.6015},{"p":1.6035},{"p":1.6055},{"p":1.6075},{"p":1.6095},{"p":1.6115},{"p":1.6135}],
  "dates": [{"t":0,"label":"9 Feb 2011"},{"t":16,"label":"9 Feb 09:00"},{"t":32,"label":"9 Feb 17:00"},{"t":48,"label":"10 Feb 01:00"},{"t":64,"label":"10 Feb 09:00"},{"t":80,"label":"10 Feb 17:00"},{"t":96,"label":"11 Feb 01:00"},{"t":112,"label":"11 Feb 09:00"},{"t":128,"label":"13 Feb 17:30"}]
},
"vconcat": [
{
 "width": 598, "height": 359,
 "layer": [
  {"data": {"name": "gridx"}, "mark": {"type": "rule", "stroke": "#c0c0c0", "strokeDash": [3,3], "strokeWidth": 1},
   "encoding": {"x": {"field": "t", "type": "quantitative", "scale": {"domain": [-0.5, 149], "nice": false, "zero": false, "padding": 0}}}},
  {"data": {"name": "pricetix"}, "mark": {"type": "rule", "stroke": "#c0c0c0", "strokeDash": [3,3], "strokeWidth": 1},
   "encoding": {"y": {"field": "p", "type": "quantitative", "scale": {"domain": [1.59493, 1.61501], "nice": false, "zero": false, "padding": 0}}}},
  {"data": {"name": "bid"}, "mark": {"type": "rule", "stroke": "#b8b8b8", "strokeWidth": 1},
   "encoding": {"y": {"field": "p", "type": "quantitative", "scale": {"domain": [1.59493, 1.61501], "nice": false, "zero": false}}}},
  {"data": {"name": "levels"}, "mark": {"type": "rule", "strokeWidth": 1, "clip": true},
   "encoding": {
    "y": {"field": "p", "type": "quantitative", "scale": {"domain": [1.59493, 1.61501], "nice": false, "zero": false}},
    "stroke": {"field": "kind", "type": "nominal", "scale": {"domain": ["level","resistance","pivot","support"], "range": ["#1c1ca0","#3cb43c","#e020e0","#c01010"]}, "legend": null},
    "strokeDash": {"field": "kind", "type": "nominal", "scale": {"domain": ["level","resistance","pivot","support"], "range": [[9,3,2,3],[9,3,2,3],[2,2],[9,3,2,3]]}, "legend": null}
   }},
  {"data": {"name": "steps"}, "mark": {"type": "line", "strokeWidth": 2, "clip": true},
   "encoding": {
    "x": {"field": "t", "type": "quantitative", "scale": {"domain": [-0.5, 149], "nice": false, "zero": false}},
    "y": {"field": "p", "type": "quantitative", "scale": {"domain": [1.59493, 1.61501], "nice": false, "zero": false}},
    "detail": {"field": "s"},
    "color": {"field": "g", "type": "nominal", "scale": {"domain": ["hi","mid","pp","lo","lo2"], "range": ["#46b946","#f0a830","#f09090","#e01010","#b00000"]}, "legend": null},
    "order": {"value": null}
   }},
  {"data": {"name": "bands"}, "mark": {"type": "line", "stroke": "#3aa87a", "strokeWidth": 1.5, "interpolate": "monotone", "clip": true},
   "encoding": {
    "x": {"field": "t", "type": "quantitative", "scale": {"domain": [-0.5, 149], "nice": false, "zero": false}},
    "y": {"field": "p", "type": "quantitative", "scale": {"domain": [1.59493, 1.61501], "nice": false, "zero": false}},
    "detail": {"field": "b"}
   }},
  {"data": {"name": "slow"}, "mark": {"type": "line", "stroke": "#8b2a2a", "strokeWidth": 2, "interpolate": "monotone", "clip": true},
   "encoding": {
    "x": {"field": "t", "type": "quantitative", "scale": {"domain": [-0.5, 149], "nice": false, "zero": false}},
    "y": {"field": "p", "type": "quantitative", "scale": {"domain": [1.59493, 1.61501], "nice": false, "zero": false}}
   }},
  {"data": {"name": "bars"}, "mark": {"type": "rule", "stroke": "#000", "strokeWidth": 1},
   "encoding": {
    "x": {"field": "t", "type": "quantitative", "scale": {"domain": [-0.5, 149], "nice": false, "zero": false}},
    "y": {"field": "l", "type": "quantitative", "scale": {"domain": [1.59493, 1.61501], "nice": false, "zero": false}},
    "y2": {"field": "h"}
   }},
  {"data": {"name": "bars"}, "mark": {"type": "bar", "size": 2, "stroke": "#000", "strokeWidth": 1},
   "encoding": {
    "x": {"field": "t", "type": "quantitative", "scale": {"domain": [-0.5, 149], "nice": false, "zero": false}},
    "y": {"field": "o", "type": "quantitative", "scale": {"domain": [1.59493, 1.61501], "nice": false, "zero": false}},
    "y2": {"field": "c"},
    "fill": {"condition": {"test": "datum.c >= datum.o", "value": "#ffffff"}, "value": "#1f4a1f"}
   }},
  {"data": {"name": "bars"}, "mark": {"type": "line", "stroke": "#d00000", "strokeWidth": 2, "interpolate": "monotone", "clip": true},
   "encoding": {
    "x": {"field": "t", "type": "quantitative", "scale": {"domain": [-0.5, 149], "nice": false, "zero": false}},
    "y": {"field": "m", "type": "quantitative", "scale": {"domain": [1.59493, 1.61501], "nice": false, "zero": false}}
   }},
  {"data": {"name": "tail"}, "mark": {"type": "line", "stroke": "#ff0000", "strokeWidth": 3, "clip": true},
   "encoding": {
    "x": {"field": "t", "type": "quantitative", "scale": {"domain": [-0.5, 149], "nice": false, "zero": false}},
    "y": {"field": "p", "type": "quantitative", "scale": {"domain": [1.59493, 1.61501], "nice": false, "zero": false}}
   }},
  {"data": {"name": "pivlab"}, "mark": {"type": "text", "align": "left", "baseline": "middle", "dy": 7, "fill": "#eeaa44"},
   "encoding": {
    "x": {"datum": 127.5, "type": "quantitative", "scale": {"domain": [-0.5, 149], "nice": false, "zero": false}},
    "y": {"field": "p", "type": "quantitative", "scale": {"domain": [1.59493, 1.61501], "nice": false, "zero": false}},
    "text": {"field": "name"}
   }},
  {"data": {"values": [{"txt": "GBPUSD,M30  1.6062 1.6063 1.6052 1.6059\nHigh= 1.6069\nLow= 1.5963\nClose= 1.6005"}]},
   "mark": {"type": "text", "align": "left", "baseline": "top", "lineBreak": "\n", "lineHeight": 12, "fill": "#000"},
   "encoding": {
    "x": {"datum": -0.2, "type": "quantitative", "scale": {"domain": [-0.5, 149], "nice": false, "zero": false}},
    "y": {"datum": 1.6150, "type": "quantitative", "scale": {"domain": [1.59493, 1.61501], "nice": false, "zero": false}},
    "text": {"field": "txt"}
   }},
  {"data": {"values": [{"txt": "Previous Days Range= 1.06\nCurrent Days Range= 0.22"}]},
   "mark": {"type": "text", "align": "left", "baseline": "top", "lineBreak": "\n", "lineHeight": 12, "fill": "#000"},
   "encoding": {
    "x": {"datum": 17.5, "type": "quantitative", "scale": {"domain": [-0.5, 149], "nice": false, "zero": false}},
    "y": {"datum": 1.61437, "type": "quantitative", "scale": {"domain": [1.59493, 1.61501], "nice": false, "zero": false}},
    "text": {"field": "txt"}
   }},
  {"data": {"name": "pricetix"}, "mark": {"type": "rule", "stroke": "#000", "strokeWidth": 1},
   "encoding": {
    "x": {"datum": 149, "type": "quantitative", "scale": {"domain": [-0.5, 149], "nice": false, "zero": false}},
    "x2": {"datum": 149.8},
    "y": {"field": "p", "type": "quantitative", "scale": {"domain": [1.59493, 1.61501], "nice": false, "zero": false}}
   }},
  {"data": {"name": "pricetix"}, "mark": {"type": "text", "align": "left", "baseline": "middle", "fill": "#000"},
   "encoding": {
    "x": {"datum": 150.0, "type": "quantitative", "scale": {"domain": [-0.5, 149], "nice": false, "zero": false}},
    "y": {"field": "p", "type": "quantitative", "scale": {"domain": [1.59493, 1.61501], "nice": false, "zero": false}},
    "text": {"field": "p", "type": "quantitative", "format": ".4f"}
   }},
  {"data": {"name": "bid"}, "mark": {"type": "bar", "orient": "horizontal", "size": 13, "fill": "#000000"},
   "encoding": {
    "x": {"datum": 149.25, "type": "quantitative", "scale": {"domain": [-0.5, 149], "nice": false, "zero": false}},
    "x2": {"datum": 158.75},
    "y": {"field": "p", "type": "quantitative", "scale": {"domain": [1.59493, 1.61501], "nice": false, "zero": false}}
   }},
  {"data": {"name": "bid"}, "mark": {"type": "text", "align": "center", "baseline": "middle", "fill": "#ffffff"},
   "encoding": {
    "x": {"datum": 154, "type": "quantitative", "scale": {"domain": [-0.5, 149], "nice": false, "zero": false}},
    "y": {"field": "p", "type": "quantitative", "scale": {"domain": [1.59493, 1.61501], "nice": false, "zero": false}},
    "text": {"field": "p", "type": "quantitative", "format": ".4f"}
   }},
  {"data": {"name": "levels"}, "mark": {"type": "bar", "orient": "horizontal", "size": 13},
   "encoding": {
    "x": {"datum": 149.25, "type": "quantitative", "scale": {"domain": [-0.5, 149], "nice": false, "zero": false}},
    "x2": {"datum": 158.75},
    "y": {"field": "p", "type": "quantitative", "scale": {"domain": [1.59493, 1.61501], "nice": false, "zero": false}},
    "fill": {"field": "kind", "type": "nominal", "scale": {"domain": ["level","resistance","pivot","support"], "range": ["#1414c8","#3cc43c","#e020e0","#e01818"]}, "legend": null}
   }},
  {"data": {"name": "levels"}, "mark": {"type": "text", "align": "center", "baseline": "middle", "fill": "#ffffff"},
   "encoding": {
    "x": {"datum": 154, "type": "quantitative", "scale": {"domain": [-0.5, 149], "nice": false, "zero": false}},
    "y": {"field": "p", "type": "quantitative", "scale": {"domain": [1.59493, 1.61501], "nice": false, "zero": false}},
    "text": {"field": "p", "type": "quantitative", "format": ".4f"}
   }}
 ]
},
{
 "width": 598, "height": 55,
 "layer": [
  {"data": {"name": "gridx"}, "mark": {"type": "rule", "stroke": "#c0c0c0", "strokeDash": [3,3], "strokeWidth": 1},
   "encoding": {"x": {"field": "t", "type": "quantitative", "scale": {"domain": [-0.5, 149], "nice": false, "zero": false, "padding": 0}}}},
  {"data": {"values": [{"v": 0}]}, "mark": {"type": "rule", "stroke": "#c0c0c0", "strokeDash": [3,3], "strokeWidth": 1},
   "encoding": {"y": {"field": "v", "type": "quantitative", "scale": {"domain": [-0.00604, 0.00347], "nice": false, "zero": false, "padding": 0}}}},
  {"data": {"name": "bars"}, "mark": {"type": "bar", "size": 2, "fill": "#c0c0c0"},
   "encoding": {
    "x": {"field": "t", "type": "quantitative", "scale": {"domain": [-0.5, 149], "nice": false, "zero": false}},
    "y": {"field": "mh", "type": "quantitative", "scale": {"domain": [-0.00604, 0.00347], "nice": false, "zero": false}},
    "y2": {"datum": 0}
   }},
  {"data": {"name": "macdsig"}, "mark": {"type": "line", "stroke": "#d00000", "strokeWidth": 2, "interpolate": "monotone"},
   "encoding": {
    "x": {"field": "t", "type": "quantitative", "scale": {"domain": [-0.5, 149], "nice": false, "zero": false}},
    "y": {"field": "v", "type": "quantitative", "scale": {"domain": [-0.00604, 0.00347], "nice": false, "zero": false}}
   }},
  {"data": {"values": [{"txt": "MACD(5,35,5) 0.00250 0.00286"}]}, "mark": {"type": "text", "align": "left", "baseline": "middle", "fill": "#000"},
   "encoding": {
    "x": {"datum": -0.2, "type": "quantitative", "scale": {"domain": [-0.5, 149], "nice": false, "zero": false}},
    "y": {"datum": 0.00209, "type": "quantitative", "scale": {"domain": [-0.00604, 0.00347], "nice": false, "zero": false}},
    "text": {"field": "txt"}
   }},
  {"data": {"values": [{"txt": "0.00347"}]}, "mark": {"type": "text", "align": "left", "baseline": "top", "dy": 1, "fill": "#000", "fontSize": 9},
   "encoding": {
    "x": {"datum": 149.6, "type": "quantitative", "scale": {"domain": [-0.5, 149], "nice": false, "zero": false}},
    "y": {"datum": 0.00347, "type": "quantitative", "scale": {"domain": [-0.00604, 0.00347], "nice": false, "zero": false}},
    "text": {"field": "txt"}
   }},
  {"data": {"values": [{"txt": "0.00"}]}, "mark": {"type": "text", "align": "left", "baseline": "middle", "fill": "#000", "fontSize": 9},
   "encoding": {
    "x": {"datum": 149.6, "type": "quantitative", "scale": {"domain": [-0.5, 149], "nice": false, "zero": false}},
    "y": {"datum": 0, "type": "quantitative", "scale": {"domain": [-0.00604, 0.00347], "nice": false, "zero": false}},
    "text": {"field": "txt"}
   }},
  {"data": {"values": [{"txt": "-0.00604"}]}, "mark": {"type": "text", "align": "left", "baseline": "bottom", "dy": -1, "fill": "#000", "fontSize": 9},
   "encoding": {
    "x": {"datum": 149.4, "type": "quantitative", "scale": {"domain": [-0.5, 149], "nice": false, "zero": false}},
    "y": {"datum": -0.00604, "type": "quantitative", "scale": {"domain": [-0.00604, 0.00347], "nice": false, "zero": false}},
    "text": {"field": "txt"}
   }},
  {"data": {"values": [{"v": 0.00347}, {"v": 0}, {"v": -0.00604}]}, "mark": {"type": "rule", "stroke": "#000", "strokeWidth": 1},
   "encoding": {
    "x": {"datum": 149, "type": "quantitative", "scale": {"domain": [-0.5, 149], "nice": false, "zero": false}},
    "x2": {"datum": 149.6},
    "y": {"field": "v", "type": "quantitative", "scale": {"domain": [-0.00604, 0.00347], "nice": false, "zero": false}}
   }}
 ]
},
{
 "width": 598, "height": 42,
 "layer": [
  {"data": {"name": "gridx"}, "mark": {"type": "rule", "stroke": "#c0c0c0", "strokeDash": [3,3], "strokeWidth": 1},
   "encoding": {"x": {"field": "t", "type": "quantitative", "scale": {"domain": [-0.5, 149], "nice": false, "zero": false, "padding": 0}}}},
  {"data": {"values": [{"v": 20}, {"v": 80}]}, "mark": {"type": "rule", "stroke": "#c0c0c0", "strokeDash": [3,3], "strokeWidth": 1},
   "encoding": {"y": {"field": "v", "type": "quantitative", "scale": {"domain": [0, 100], "nice": false, "zero": false, "padding": 0}}}},
  {"data": {"name": "bars"}, "mark": {"type": "line", "stroke": "#2fb0a8", "strokeWidth": 2},
   "encoding": {
    "x": {"field": "t", "type": "quantitative", "scale": {"domain": [-0.5, 149], "nice": false, "zero": false}},
    "y": {"field": "k", "type": "quantitative", "scale": {"domain": [0, 100], "nice": false, "zero": false}}
   }},
  {"data": {"name": "bars"}, "mark": {"type": "line", "stroke": "#e00000", "strokeWidth": 1, "strokeDash": [2,2]},
   "encoding": {
    "x": {"field": "t", "type": "quantitative", "scale": {"domain": [-0.5, 149], "nice": false, "zero": false}},
    "y": {"field": "d", "type": "quantitative", "scale": {"domain": [0, 100], "nice": false, "zero": false}}
   }},
  {"data": {"values": [{"txt": "Stoch(10,3,3) 80.6452 86.4890"}]}, "mark": {"type": "text", "align": "left", "baseline": "middle", "fill": "#000"},
   "encoding": {
    "x": {"datum": -0.2, "type": "quantitative", "scale": {"domain": [-0.5, 149], "nice": false, "zero": false}},
    "y": {"datum": 76, "type": "quantitative", "scale": {"domain": [0, 100], "nice": false, "zero": false}},
    "text": {"field": "txt"}
   }},
  {"data": {"values": [{"txt": "100"}]}, "mark": {"type": "text", "align": "left", "baseline": "top", "fill": "#000"},
   "encoding": {
    "x": {"datum": 150.0, "type": "quantitative", "scale": {"domain": [-0.5, 149], "nice": false, "zero": false}},
    "y": {"datum": 100, "type": "quantitative", "scale": {"domain": [0, 100], "nice": false, "zero": false}},
    "text": {"field": "txt"}
   }},
  {"data": {"values": [{"v": 80}, {"v": 20}]}, "mark": {"type": "text", "align": "left", "baseline": "middle", "fill": "#000"},
   "encoding": {
    "x": {"datum": 150.0, "type": "quantitative", "scale": {"domain": [-0.5, 149], "nice": false, "zero": false}},
    "y": {"field": "v", "type": "quantitative", "scale": {"domain": [0, 100], "nice": false, "zero": false}},
    "text": {"field": "v", "type": "quantitative"}
   }},
  {"data": {"values": [{"v": 100}, {"v": 80}, {"v": 20}, {"v": 0}]}, "mark": {"type": "rule", "stroke": "#000", "strokeWidth": 1},
   "encoding": {
    "x": {"datum": 149, "type": "quantitative", "scale": {"domain": [-0.5, 149], "nice": false, "zero": false}},
    "x2": {"datum": 149.8},
    "y": {"field": "v", "type": "quantitative", "scale": {"domain": [0, 100], "nice": false, "zero": false}}
   }},
  {"data": {"name": "dates"}, "mark": {"type": "text", "align": "left", "baseline": "middle", "dx": -2, "fill": "#000"},
   "encoding": {
    "x": {"field": "t", "type": "quantitative", "scale": {"domain": [-0.5, 149], "nice": false, "zero": false}},
    "y": {"datum": -19, "type": "quantitative", "scale": {"domain": [0, 100], "nice": false, "zero": false}},
    "text": {"field": "label"}
   }}
 ]
}
]
}
